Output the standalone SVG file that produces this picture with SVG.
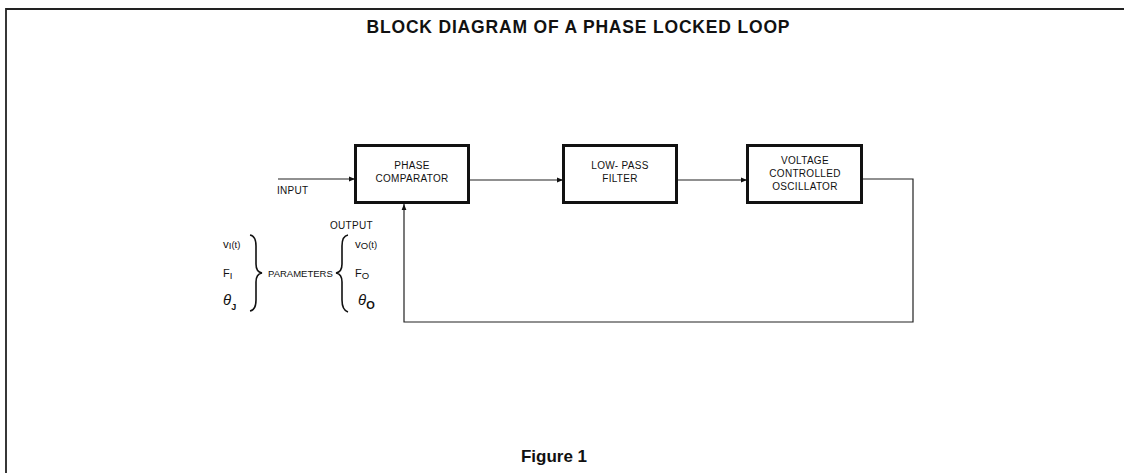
<svg xmlns="http://www.w3.org/2000/svg" width="1124" height="473" viewBox="0 0 1124 473">
<style>
text{font-family:"Liberation Sans",Arial,sans-serif;fill:#111}
.box{fill:#fff;stroke:#111;stroke-width:3}
.lbl{font-size:10px;text-anchor:middle;letter-spacing:0.3px}
.wire{fill:none;stroke:#222;stroke-width:1.2}
.sm{font-size:10px}
.sub{font-size:9.5px}
.brace{fill:none;stroke:#111;stroke-width:1.6}
</style>
<defs>
<marker id="ah" viewBox="0 0 10 10" refX="10" refY="5" markerWidth="8" markerHeight="6" markerUnits="userSpaceOnUse" orient="auto">
<path d="M0,1 L10,5 L0,9 Z" fill="#111"/>
</marker>
</defs>
<rect width="1124" height="473" fill="#fff"/>
<path d="M6,473 V9 H1124" fill="none" stroke="#222" stroke-width="1.8"/>
<text x="578" y="33" font-size="17.5" font-weight="bold" text-anchor="middle" textLength="423">BLOCK DIAGRAM OF A PHASE LOCKED LOOP</text>
<g id="connectors">
<line class="wire" x1="278" y1="179" x2="355" y2="179" marker-end="url(#ah)"/>
<line class="wire" x1="469" y1="180" x2="563" y2="180" marker-end="url(#ah)"/>
<line class="wire" x1="677" y1="180" x2="747" y2="180" marker-end="url(#ah)"/>
<path class="wire" d="M862,179 H913 V322 H404 V204" marker-end="url(#ah)"/>
</g>
<g id="phase-comparator">
<rect class="box" x="355.5" y="145.5" width="113" height="57"/>
<text class="lbl" x="412" y="169">PHASE</text>
<text class="lbl" x="412" y="181.5">COMPARATOR</text>
</g>
<g id="low-pass-filter">
<rect class="box" x="563.5" y="145.5" width="113" height="57"/>
<text class="lbl" x="620" y="169">LOW- PASS</text>
<text class="lbl" x="620" y="181.5">FILTER</text>
</g>
<g id="vco">
<rect class="box" x="747.5" y="145.5" width="114" height="57"/>
<text class="lbl" x="805" y="164">VOLTAGE</text>
<text class="lbl" x="805" y="177">CONTROLLED</text>
<text class="lbl" x="805" y="190">OSCILLATOR</text>
</g>
<g id="labels">
<text class="sm" x="277" y="194" letter-spacing="0.3">INPUT</text>
<text class="sm" x="330" y="229" letter-spacing="0.3">OUTPUT</text>
<text x="268" y="276.5" font-size="9.5">PARAMETERS</text>
<text x="223" y="248" font-size="11.5">v<tspan class="sub" dy="1">I</tspan><tspan class="sub" dy="-1">(t)</tspan></text>
<text x="223" y="277" font-size="11">F<tspan class="sub" dy="2">I</tspan></text>
<text x="223" y="305" font-size="15" font-style="italic" font-family="Liberation Serif,serif">θ<tspan font-size="9" font-style="normal" font-family="Liberation Sans,sans-serif" font-weight="bold" dy="5">J</tspan></text>
<text x="355" y="248" font-size="11.5">v<tspan class="sub" dy="1">O</tspan><tspan class="sub" dy="-1">(t)</tspan></text>
<text x="355" y="277" font-size="11">F<tspan class="sub" dy="2">O</tspan></text>
<text x="358" y="305" font-size="15" font-style="italic" font-family="Liberation Serif,serif">θ<tspan font-size="11" font-style="normal" font-family="Liberation Sans,sans-serif" font-weight="bold" dy="4">O</tspan></text>
<path class="brace" d="M250,235 Q256,236 256,246 L256,264 Q256,272 262,273 Q256,274 256,282 L256,300 Q256,310 250,311"/>
<path class="brace" d="M348,235 Q342,236 342,246 L342,264 Q342,272 336,273 Q342,274 342,282 L342,300 Q342,310 348,312"/>
</g>
<text x="554" y="462" font-size="17" font-weight="bold" text-anchor="middle">Figure 1</text>
</svg>
